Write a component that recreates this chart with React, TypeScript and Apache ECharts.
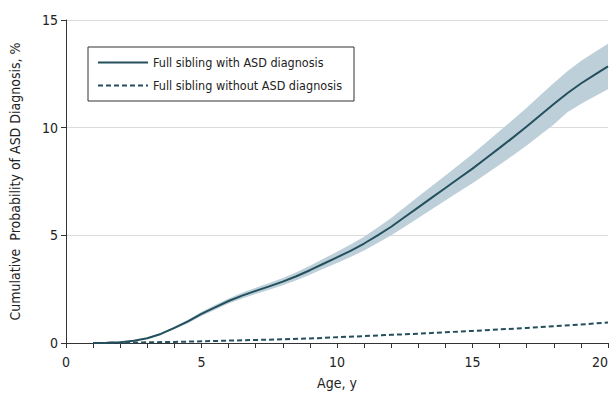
import React, { useEffect, useRef } from "react";
import * as echarts from "echarts";

const ages = [1, 1.5, 2, 2.5, 3, 3.5, 4, 4.5, 5, 5.5, 6, 6.5, 7, 7.5, 8, 8.5, 9, 9.5, 10, 10.5, 11, 11.5, 12, 12.5, 13, 13.5, 14, 14.5, 15, 15.5, 16, 16.5, 17, 17.5, 18, 18.5, 19, 19.5, 20];
const withAsd = [0, 0.01, 0.04, 0.1, 0.22, 0.42, 0.7, 1.0, 1.35, 1.65, 1.95, 2.2, 2.42, 2.63, 2.85, 3.1, 3.38, 3.68, 3.98, 4.28, 4.62, 5.0, 5.4, 5.85, 6.3, 6.75, 7.2, 7.65, 8.1, 8.58, 9.06, 9.55, 10.05, 10.58, 11.1, 11.6, 12.05, 12.45, 12.85];
const withAsdLower = [0, 0.005, 0.03, 0.08, 0.19, 0.38, 0.64, 0.92, 1.25, 1.54, 1.83, 2.07, 2.27, 2.47, 2.68, 2.91, 3.17, 3.45, 3.72, 3.99, 4.3, 4.64, 5.0, 5.4, 5.8, 6.21, 6.62, 7.02, 7.42, 7.85, 8.28, 8.72, 9.17, 9.66, 10.15, 10.72, 11.1, 11.45, 11.78];
const withAsdUpper = [0, 0.015, 0.05, 0.12, 0.25, 0.46, 0.76, 1.08, 1.45, 1.76, 2.07, 2.33, 2.57, 2.79, 3.02, 3.29, 3.59, 3.91, 4.24, 4.57, 4.94, 5.36, 5.8, 6.3, 6.8, 7.29, 7.78, 8.28, 8.78, 9.31, 9.84, 10.38, 10.93, 11.5, 12.07, 12.62, 13.1, 13.5, 13.9];
const withoutAgesX = [1, 2, 3, 4, 5, 6, 7, 8, 9, 10, 11, 12, 13, 14, 15, 16, 17, 18, 19, 20];
const withoutAsd = [0, 0.01, 0.03, 0.05, 0.08, 0.11, 0.14, 0.17, 0.21, 0.27, 0.32, 0.38, 0.43, 0.5, 0.56, 0.63, 0.7, 0.78, 0.86, 0.95];

const seriesNames = ["Full sibling with ASD diagnosis", "Full sibling without ASD diagnosis"];
const yTicks = [0, 5, 10, 15];
const xTickLabels = [0, 5, 10, 15, 20];

const FONT = "'DejaVu Sans Condensed', 'DejaVu Sans', sans-serif";
const LINE = "#244f5d";
const BAND = "#bdd0da";

export default function App() {
  const ref = useRef<HTMLDivElement>(null);
  useEffect(() => {
    if (!ref.current) return;
    const chart = echarts.init(ref.current, null, { renderer: "svg" });
    const pair = (xs: number[], ys: number[]) => xs.map((x, i) => [x, ys[i]]);
    const bandData = ages.map((a, i) => [a, withAsdLower[i], withAsdUpper[i]]);
    chart.setOption({
      animation: false,
      textStyle: { fontFamily: FONT },
      grid: { left: 66, right: 7, top: 20, bottom: 57 },
      legend: {
        data: seriesNames,
        orient: "vertical",
        left: 88,
        top: 47,
        itemWidth: 50,
        itemHeight: 10,
        itemGap: 10,
        padding: [9, 12, 9, 9],
        borderColor: "#333",
        borderWidth: 1,
        itemStyle: { color: "rgba(0,0,0,0)", borderWidth: 0, opacity: 0 },
        textStyle: { fontFamily: FONT, fontSize: 12.5, color: "#222" },
      },
      xAxis: {
        type: "value",
        min: 0,
        max: 20,
        interval: 1,
        offset: 4,
        name: "Age, y",
        nameLocation: "middle",
        nameGap: 29,
        nameTextStyle: { fontFamily: FONT, fontSize: 14, color: "#222" },
        axisLine: { show: true, lineStyle: { color: "#333", width: 1 } },
        axisTick: { show: true, length: 5, lineStyle: { color: "#333" } },
        axisLabel: {
          fontFamily: FONT,
          fontSize: 14,
          color: "#222",
          margin: 8,
          alignMaxLabel: "right",
          formatter: (v: number) => (xTickLabels.includes(v) ? String(v) : ""),
        },
        splitLine: { show: false },
      },
      yAxis: {
        type: "value",
        min: 0,
        max: 15,
        interval: 5,
        offset: 4,
        name: "Cumulative  Probability of ASD Diagnosis, %",
        nameLocation: "middle",
        nameGap: 40,
        nameTextStyle: { fontFamily: FONT, fontSize: 14, color: "#222" },
        axisLine: { show: true, lineStyle: { color: "#333", width: 1 } },
        axisTick: { show: true, length: 5, lineStyle: { color: "#333" } },
        axisLabel: {
          fontFamily: FONT,
          fontSize: 14,
          color: "#222",
          margin: 4,
          formatter: (v: number) => (yTicks.includes(v) ? String(v) : ""),
        },
        splitLine: { show: true, lineStyle: { color: "#dcdcdc", width: 1 } },
      },
      series: [
        {
          name: "band",
          type: "custom",
          data: bandData,
          encode: { x: 0, y: [1, 2] },
          silent: true,
          z: 1,
          renderItem: (params: any, api: any) => {
            if (params.dataIndex !== 0) return null;
            const upper = bandData.map((d) => api.coord([d[0], d[2]]));
            const lower = bandData.map((d) => api.coord([d[0], d[1]])).reverse();
            return {
              type: "polygon",
              shape: { points: upper.concat(lower) },
              style: { fill: BAND, stroke: "none" },
            };
          },
        },
        {
          name: seriesNames[0],
          type: "line",
          data: pair(ages, withAsd),
          showSymbol: false,
          symbol: "none",
          color: LINE,
          z: 3,
          lineStyle: { color: LINE, width: 2 },
        },
        {
          name: seriesNames[1],
          type: "line",
          data: pair(withoutAgesX, withoutAsd),
          showSymbol: false,
          symbol: "none",
          color: LINE,
          z: 3,
          lineStyle: { color: LINE, width: 2, type: [5, 3] },
        },
      ],
    });
    return () => chart.dispose();
  }, []);
  return <div ref={ref} style={{ position: "absolute", left: 0, top: 0, width: 615, height: 400 }} />;
}
